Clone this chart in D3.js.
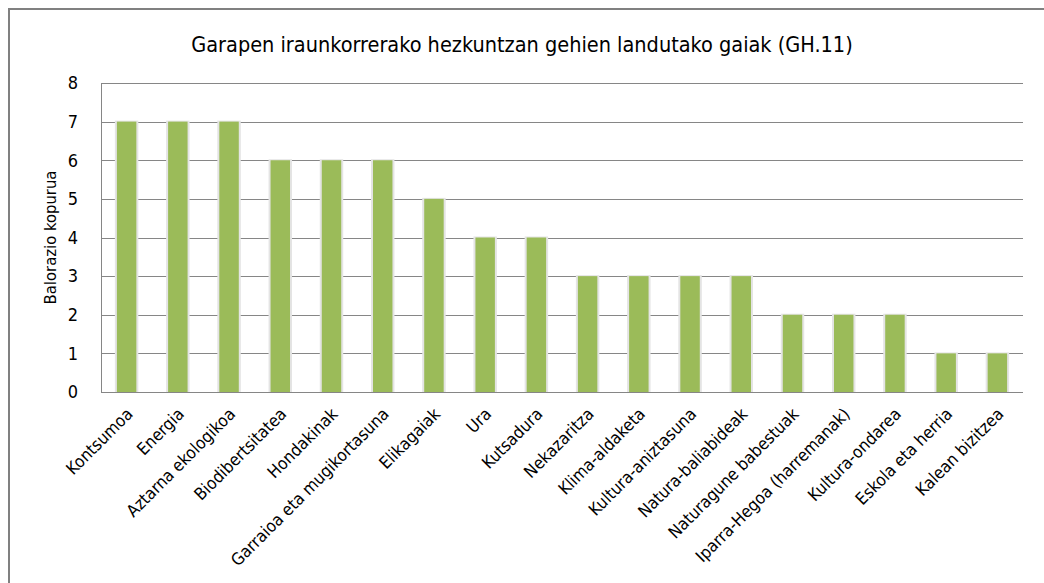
<!DOCTYPE html>
<html>
<head>
<meta charset="utf-8">
<script src="https://cdn.jsdelivr.net/npm/d3@7"></script>
<style>
  body { margin: 0; background: #fff; }
  text { font-family: "Liberation Sans Narrow", "DejaVu Sans Condensed", "Open Sans", sans-serif; fill: #000; }
</style>
</head>
<body>
<svg id="canvas"></svg>
<script>
var w = 1044
var h = 583

// ########## Data ##########
var categories = ["Kontsumoa", "Energia", "Aztarna ekologikoa", "Biodibertsitatea", "Hondakinak",
    "Garraioa eta mugikortasuna", "Elikagaiak", "Ura", "Kutsadura", "Nekazaritza", "Klima-aldaketa",
    "Kultura-aniztasuna", "Natura-baliabideak", "Naturagune babestuak", "Iparra-Hegoa (harremanak)",
    "Kultura-ondarea", "Eskola eta herria", "Kalean bizitzea"];
var values = [7, 7, 7, 6, 6, 6, 5, 4, 4, 3, 3, 3, 3, 2, 2, 2, 1, 1];
var yTicks = [0, 1, 2, 3, 4, 5, 6, 7, 8];
var title = "Garapen iraunkorrerako hezkuntzan gehien landutako gaiak (GH.11)";
var yTitle = "Balorazio kopurua";

// ########## SVG ##########
var svg = d3.select("#canvas")
    .attr("width", w)
    .attr("height", h);

// chart frame (only top and left edges visible)
svg.append("path")
    .attr("d", "M9," + h + "V9H" + w)
    .attr("fill", "none")
    .attr("stroke", "#808080")
    .attr("stroke-width", 2);

var m = { left: 101, right: 1023, top: 83, bottom: 392 };

var x = d3.scaleBand()
    .domain(categories)
    .range([m.left, m.right])
    .paddingInner(0.62)
    .paddingOuter(0.31);

var y = d3.scaleLinear()
    .domain([0, 8])
    .range([m.bottom, m.top]);

// ########## Grid ##########
svg.append("g")
    .selectAll("line")
    .data(yTicks).enter()
    .append("line")
    .attr("x1", m.left)
    .attr("x2", m.right)
    .attr("y1", function (d) { return Math.round(y(d)) + 0.5; })
    .attr("y2", function (d) { return Math.round(y(d)) + 0.5; })
    .attr("stroke", "#868686")
    .attr("stroke-width", 1);

svg.append("line")
    .attr("x1", m.left + 0.5).attr("x2", m.left + 0.5)
    .attr("y1", m.top).attr("y2", m.bottom)
    .attr("stroke", "#868686");

// ########## Bars ##########
var bars = svg.append("g");

// soft shadow
bars.selectAll(".shadow")
    .data(values).enter()
    .append("rect")
    .attr("class", "shadow")
    .attr("x", function (d, i) { return x(categories[i]) - 2; })
    .attr("y", function (d) { return y(d) - 1; })
    .attr("width", x.bandwidth() + 4)
    .attr("height", function (d) { return m.bottom - y(d) + 1; })
    .attr("fill", "#e4e4e4");

bars.selectAll(".bar")
    .data(values).enter()
    .append("rect")
    .attr("class", "bar")
    .attr("x", function (d, i) { return x(categories[i]); })
    .attr("y", function (d) { return y(d); })
    .attr("width", x.bandwidth())
    .attr("height", function (d) { return m.bottom - y(d); })
    .attr("fill", "#9bbb59");

// axis line at bottom on top of bars
svg.append("line")
    .attr("x1", m.left).attr("x2", m.right)
    .attr("y1", m.bottom + 0.5).attr("y2", m.bottom + 0.5)
    .attr("stroke", "#868686");

// ########## Labels ##########
svg.append("g")
    .selectAll("text")
    .data(yTicks).enter()
    .append("text")
    .attr("x", 78)
    .attr("y", function (d) { return y(d); })
    .attr("dy", "0.35em")
    .attr("text-anchor", "end")
    .attr("font-size", 18)
    .text(function (d) { return d; });

svg.append("g")
    .selectAll("text")
    .data(categories).enter()
    .append("text")
    .attr("transform", function (d) {
        return "translate(" + (x(d) + x.bandwidth() / 2 + 3) + "," + (m.bottom + 19) + ") rotate(-45)";
    })
    .attr("text-anchor", "end")
    .attr("dy", "0.35em")
    .attr("font-size", 17)
    .text(function (d) { return d; });

svg.append("text")
    .attr("transform", "translate(50," + ((m.top + m.bottom) / 2) + ") rotate(-90)")
    .attr("text-anchor", "middle")
    .attr("dy", "0.35em")
    .attr("font-size", 16.5)
    .text(yTitle);

svg.append("text")
    .attr("x", 522)
    .attr("y", 44)
    .attr("text-anchor", "middle")
    .attr("dy", "0.35em")
    .attr("font-size", 21.5)
    .text(title);
</script>
</body>
</html>
